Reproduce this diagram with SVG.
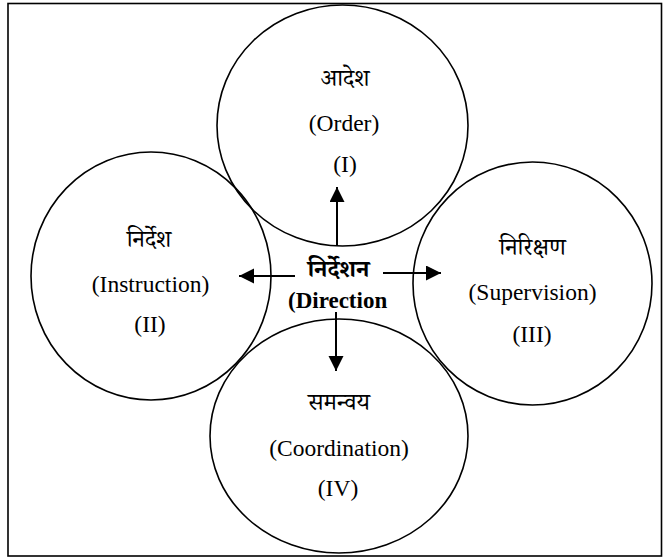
<svg xmlns="http://www.w3.org/2000/svg" width="663" height="560" viewBox="0 0 663 560">
  <style>
    .ring { fill: none; stroke: #000; stroke-width: 1.6; }
    .hi { font-family: "Noto Serif Devanagari", "Noto Sans Devanagari", "Lohit Devanagari", "Noto Sans", serif; font-size: 24px; fill: #000; text-anchor: middle; }
    .en { font-family: "Liberation Serif", "Times New Roman", serif; font-size: 23.5px; fill: #000; text-anchor: middle; }
    .hub-hi { font-family: "Noto Serif Devanagari", "Noto Sans Devanagari", "Lohit Devanagari", "Noto Sans", serif; font-size: 24px; font-weight: bold; fill: #000; text-anchor: middle; }
    .hub-en { font-family: "Liberation Serif", "Times New Roman", serif; font-size: 23px; font-weight: bold; fill: #000; }
    .link { stroke: #000; stroke-width: 2; fill: none; marker-end: url(#head); }
  </style>
  <defs>
    <marker id="head" markerUnits="userSpaceOnUse" markerWidth="16" markerHeight="16" refX="15" refY="7.5" orient="auto">
      <path d="M0,0 L15,7.5 L0,15 Z" fill="#000"/>
    </marker>
  </defs>

  <rect x="0" y="0" width="663" height="560" fill="#fff"/>
  <rect x="8" y="3.5" width="653.5" height="552.5" fill="none" stroke="#000" stroke-width="1.6"/>

  <g id="order">
    <ellipse class="ring" cx="342.5" cy="125.5" rx="125.5" ry="120.5"/>
    <text class="hi" x="345" y="86">आदेश</text>
    <text class="en" x="344" y="131">(Order)</text>
    <text class="en" x="345" y="172">(I)</text>
  </g>

  <g id="instruction">
    <ellipse class="ring" cx="151" cy="276" rx="120" ry="124"/>
    <text class="hi" x="149" y="247">निर्देश</text>
    <text class="en" x="150.5" y="292">(Instruction)</text>
    <text class="en" x="150" y="332">(II)</text>
  </g>

  <g id="supervision">
    <ellipse class="ring" cx="532.5" cy="283.5" rx="119.5" ry="121.5"/>
    <text class="hi" x="532.5" y="255">निरिक्षण</text>
    <text class="en" x="532.5" y="300">(Supervision)</text>
    <text class="en" x="532" y="342">(III)</text>
  </g>

  <g id="coordination">
    <ellipse class="ring" cx="339" cy="436" rx="129" ry="117"/>
    <text class="hi" x="339" y="410">समन्वय</text>
    <text class="en" x="339" y="456">(Coordination)</text>
    <text class="en" x="338" y="496">(IV)</text>
  </g>

  <g id="direction">
    <text class="hub-hi" x="338.5" y="277">निर्देशन</text>
    <text class="hub-en" x="288" y="308">(Direction</text>
  </g>

  <g id="connectors">
    <line class="link" x1="337" y1="246" x2="337" y2="187"/>
    <line class="link" x1="295" y1="276" x2="239" y2="276"/>
    <line class="link" x1="383" y1="273" x2="441" y2="273"/>
    <line class="link" x1="336" y1="312" x2="336" y2="371"/>
  </g>
</svg>
